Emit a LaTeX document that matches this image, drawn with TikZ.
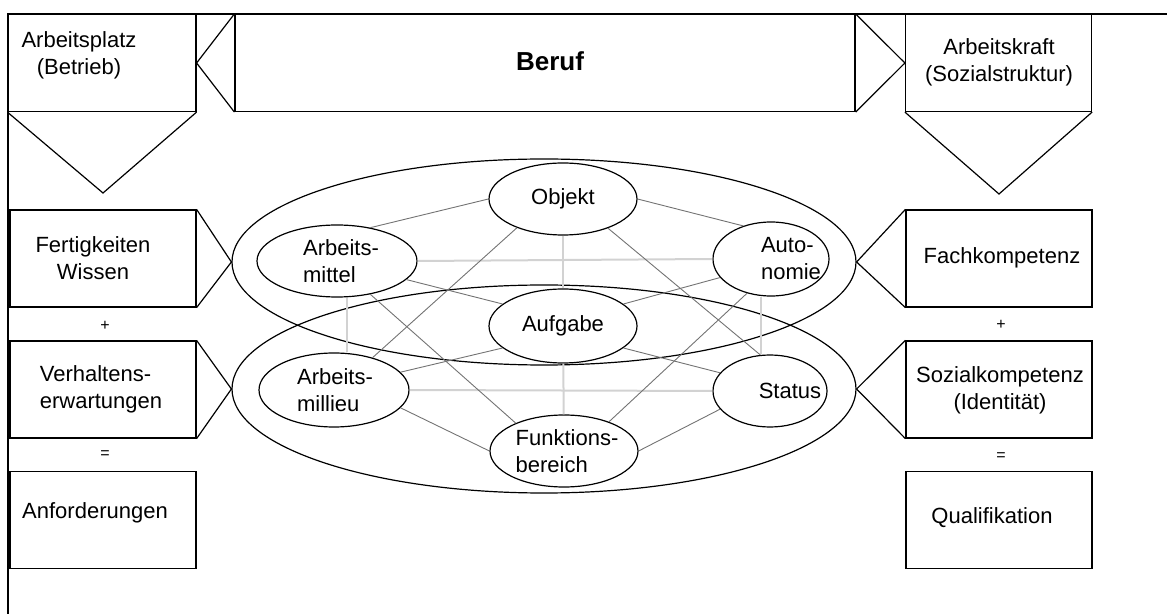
\documentclass[tikz,border=0pt]{standalone}
\usepackage{fontspec}
\setmainfont{Liberation Sans}
\usetikzlibrary{shapes.geometric}

\begin{document}
\begin{tikzpicture}[x=0.5pt, y=-0.5pt, line width=0.6pt,
    font=\fontsize{11}{13.5}\selectfont,
    kasten/.style={draw, rectangle, minimum width=93pt, minimum height=48.5pt, inner sep=0pt},
    oval/.style={draw, ellipse, inner sep=0pt},
    txt/.style={align=center, inner sep=0pt},
    grau/.style={line width=1pt, gray!35},
    fein/.style={line width=0.45pt, black!55},
    zeichen/.style={font=\fontsize{8}{9}\selectfont, inner sep=0pt}]
        \useasboundingbox (0,0) rectangle (1167,614);

        % Rahmen
        \draw (1167,14) -- (8,14) -- (8,614);

        % Kopfzeile
        \node[kasten, minimum width=94pt] (platz) at (102,63) {};
        \node[txt] (platztext) at (79,55) {Arbeitsplatz\\(Betrieb)};
        \node[kasten, minimum width=310pt] (beruf) at (545,63) {};
        \node[txt, font=\fontsize{13}{15}\selectfont\bfseries] (beruftext) at (550,61) {Beruf};
        \node[kasten] (kraft) at (998.5,63) {};
        \node[txt] (krafttext) at (999,62) {Arbeitskraft\\(Sozialstruktur)};
        \draw (beruf.north west) -- (platz.east) -- (beruf.south west);
        \draw (beruf.north east) -- (kraft.west) -- (beruf.south east);
        \coordinate (platzspitze) at (103,193);
        \coordinate (kraftspitze) at (999,194);
        \draw (platz.south west) -- (platzspitze) -- (platz.south east);
        \draw (kraft.south west) -- (kraftspitze) -- (kraft.south east);

        % grosse Ellipsen
        \node[oval, minimum width=312pt, minimum height=103pt] (ring1) at (544,262) {};
        \node[oval, minimum width=312pt, minimum height=104pt] (ring2) at (544,389) {};

        % linke Spalte
        \node[kasten] (fert) at (103,258.5) {};
        \node[txt] (ferttext) at (93,258) {Fertigkeiten\\Wissen};
        \draw (fert.north east) -- (ring1.west) -- (fert.south east);
        \node[zeichen] (plus1) at (105,326) {+};
        \node[kasten] (verh) at (103,389.5) {};
        \node[txt, align=left] (verhtext) at (101,389) {Verhaltens-\\erwartungen};
        \draw (verh.north east) -- (ring2.west) -- (verh.south east);
        \node[zeichen] (gleich1) at (105,455) {=};
        \node[kasten] (anf) at (103,520) {};
        \node[txt] (anftext) at (95,513) {Anforderungen};

        % rechte Spalte
        \node[kasten] (fach) at (999,258.5) {};
        \node[txt] (fachtext) at (1002,258) {Fachkompetenz};
        \draw (fach.north west) -- (ring1.east) -- (fach.south west);
        \node[zeichen] (plus2) at (1001,325) {+};
        \node[kasten] (sozial) at (999,389.5) {};
        \node[txt] (sozialtext) at (1000,390) {Sozialkompetenz\\(Identität)};
        \draw (sozial.north west) -- (ring2.east) -- (sozial.south west);
        \node[zeichen] (gleich2) at (1001,457) {=};
        \node[kasten] (quali) at (999,520) {};
        \node[txt] (qualitext) at (992,518) {Qualifikation};

        % kleine Ellipsen
        \node[oval, minimum width=74pt, minimum height=36pt] (obj) at (563,199) {};
        \node[oval, minimum width=80pt, minimum height=36pt] (mittel) at (337,261) {};
        \node[oval, minimum width=58pt, minimum height=37pt] (auto) at (771,259) {};
        \node[oval, minimum width=74pt, minimum height=37pt] (auf) at (563,326) {};
        \node[oval, minimum width=75pt, minimum height=37pt] (millieu) at (334,390) {};
        \node[oval, minimum width=57pt, minimum height=36pt] (status) at (770,391) {};
        \node[oval, minimum width=74pt, minimum height=36pt] (funk) at (564,451) {};
        \node[txt] (objtext) at (563,199) {Objekt};
        \node[txt, align=left] (mitteltext) at (341,261) {Arbeits-\\mittel};
        \node[txt, align=left] (autotext) at (791,259) {Auto-\\nomie};
        \node[txt] (auftext) at (563,326) {Aufgabe};
        \node[txt, align=left] (millieutext) at (335,390) {Arbeits-\\millieu};
        \node[txt] (statustext) at (790,391) {Status};
        \node[txt, align=left] (funktext) at (567,451) {Funktions-\\bereich};

        % Raster
        \draw[grau] (mittel.east) -- (auto.west);
        \draw[grau] (millieu.east) -- (status.west);
        \draw[grau] (obj) -- (auf);
        \draw[grau] (auf) -- (funk);
        \draw[grau] ([xshift=5pt]mittel.south) -- ([xshift=6.5pt]millieu.north);
        \draw[grau] ([xshift=-5pt]auto.south) -- ([xshift=-4.5pt]status.north);

        % Verbindungen
        \draw[fein] (obj.west) -- (mittel.45);
        \draw[fein] (obj.east) -- (auto.130);
        \draw[fein] (obj.212) -- (millieu.40);
        \draw[fein] (obj.327) -- (status.105);
        \draw[fein] (mittel.345) -- (auf.160);
        \draw[fein] (mittel.315) -- (funk.150);
        \draw[fein] (auf.20) -- (auto.200);
        \draw[fein] (auf.200) -- (millieu.15);
        \draw[fein] (auf.340) -- (status.160);
        \draw[fein] (auto.235) -- (funk.33);
        \draw[fein] (millieu.345) -- (funk.west);
        \draw[fein] (status.200) -- (funk.east);

    \end{tikzpicture}
\end{document}
